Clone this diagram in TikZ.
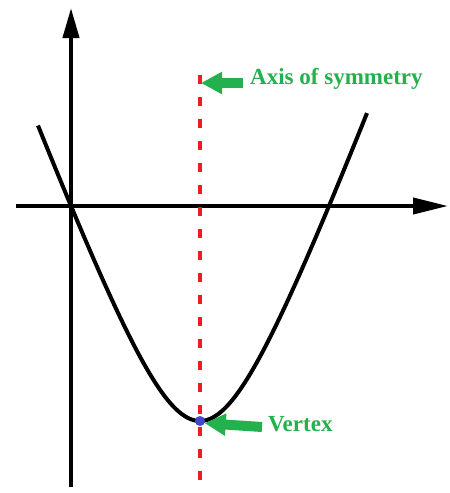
\documentclass[tikz,border=0pt]{standalone}
\usepackage{fontspec}
\setmainfont{Liberation Serif}
\usepackage{tikz}
\usetikzlibrary{arrows.meta,calc}
\definecolor{PaintGreen}{HTML}{22B14C}
\definecolor{PaintRed}{HTML}{ED1C24}
\definecolor{PaintBlue}{HTML}{3F48CC}

\begin{document}
\begin{tikzpicture}[x=1pt,y=-1pt,
          axis/.style={line width=4pt,black},
          curve/.style={line width=4pt,black,line join=round},
          symline/.style={line width=4pt,PaintRed,dash pattern=on 9pt off 13pt},
          callout/.style={line width=10pt,PaintGreen,-{Triangle[length=21pt,width=21pt]}},
          lbl/.style={font=\bfseries\fontsize{23}{26}\selectfont,text=PaintGreen,inner sep=0pt}]
        \useasboundingbox (0,0) rectangle (450,493);
        % axes
        \coordinate (ybot) at (71,487);
        \coordinate (ytop) at (71,8);
        \coordinate (xleft) at (16,206);
        \coordinate (xright) at (448,206);
        \draw[axis,-{Triangle[length=30pt,width=16pt]}] (ybot) -- (ytop);
        \draw[axis,-{Triangle[length=35pt,width=16pt]}] (xleft) -- (xright);
        % parabola
        \draw[curve] plot[domain=-162:167,samples=120,smooth]
          ({200+\x},{421-26.51*(sqrt((\x/10)*(\x/10)+38.44)-6.2)});
        % axis of symmetry
        \coordinate (axtop) at (200,75);
        \coordinate (axbot) at (200,490);
        \draw[symline] (axtop) -- (axbot);
        \node[circle,fill=PaintBlue,inner sep=0pt,minimum size=10pt] (vertex) at (200,421) {};
        % labels
        \node[lbl,anchor=base west] (axislbl) at (250,84) {Axis of symmetry};
        \node[lbl,anchor=base west] (vertexlbl) at (268,431) {Vertex};
        \draw[callout] ($(axislbl.base west)+(-7,-1)$) -- ($(axtop)+(1,8)$);
        \draw[callout] ($(vertexlbl.base west)+(-6,-4)$) -- (vertex.-25);
      \end{tikzpicture}
\end{document}
